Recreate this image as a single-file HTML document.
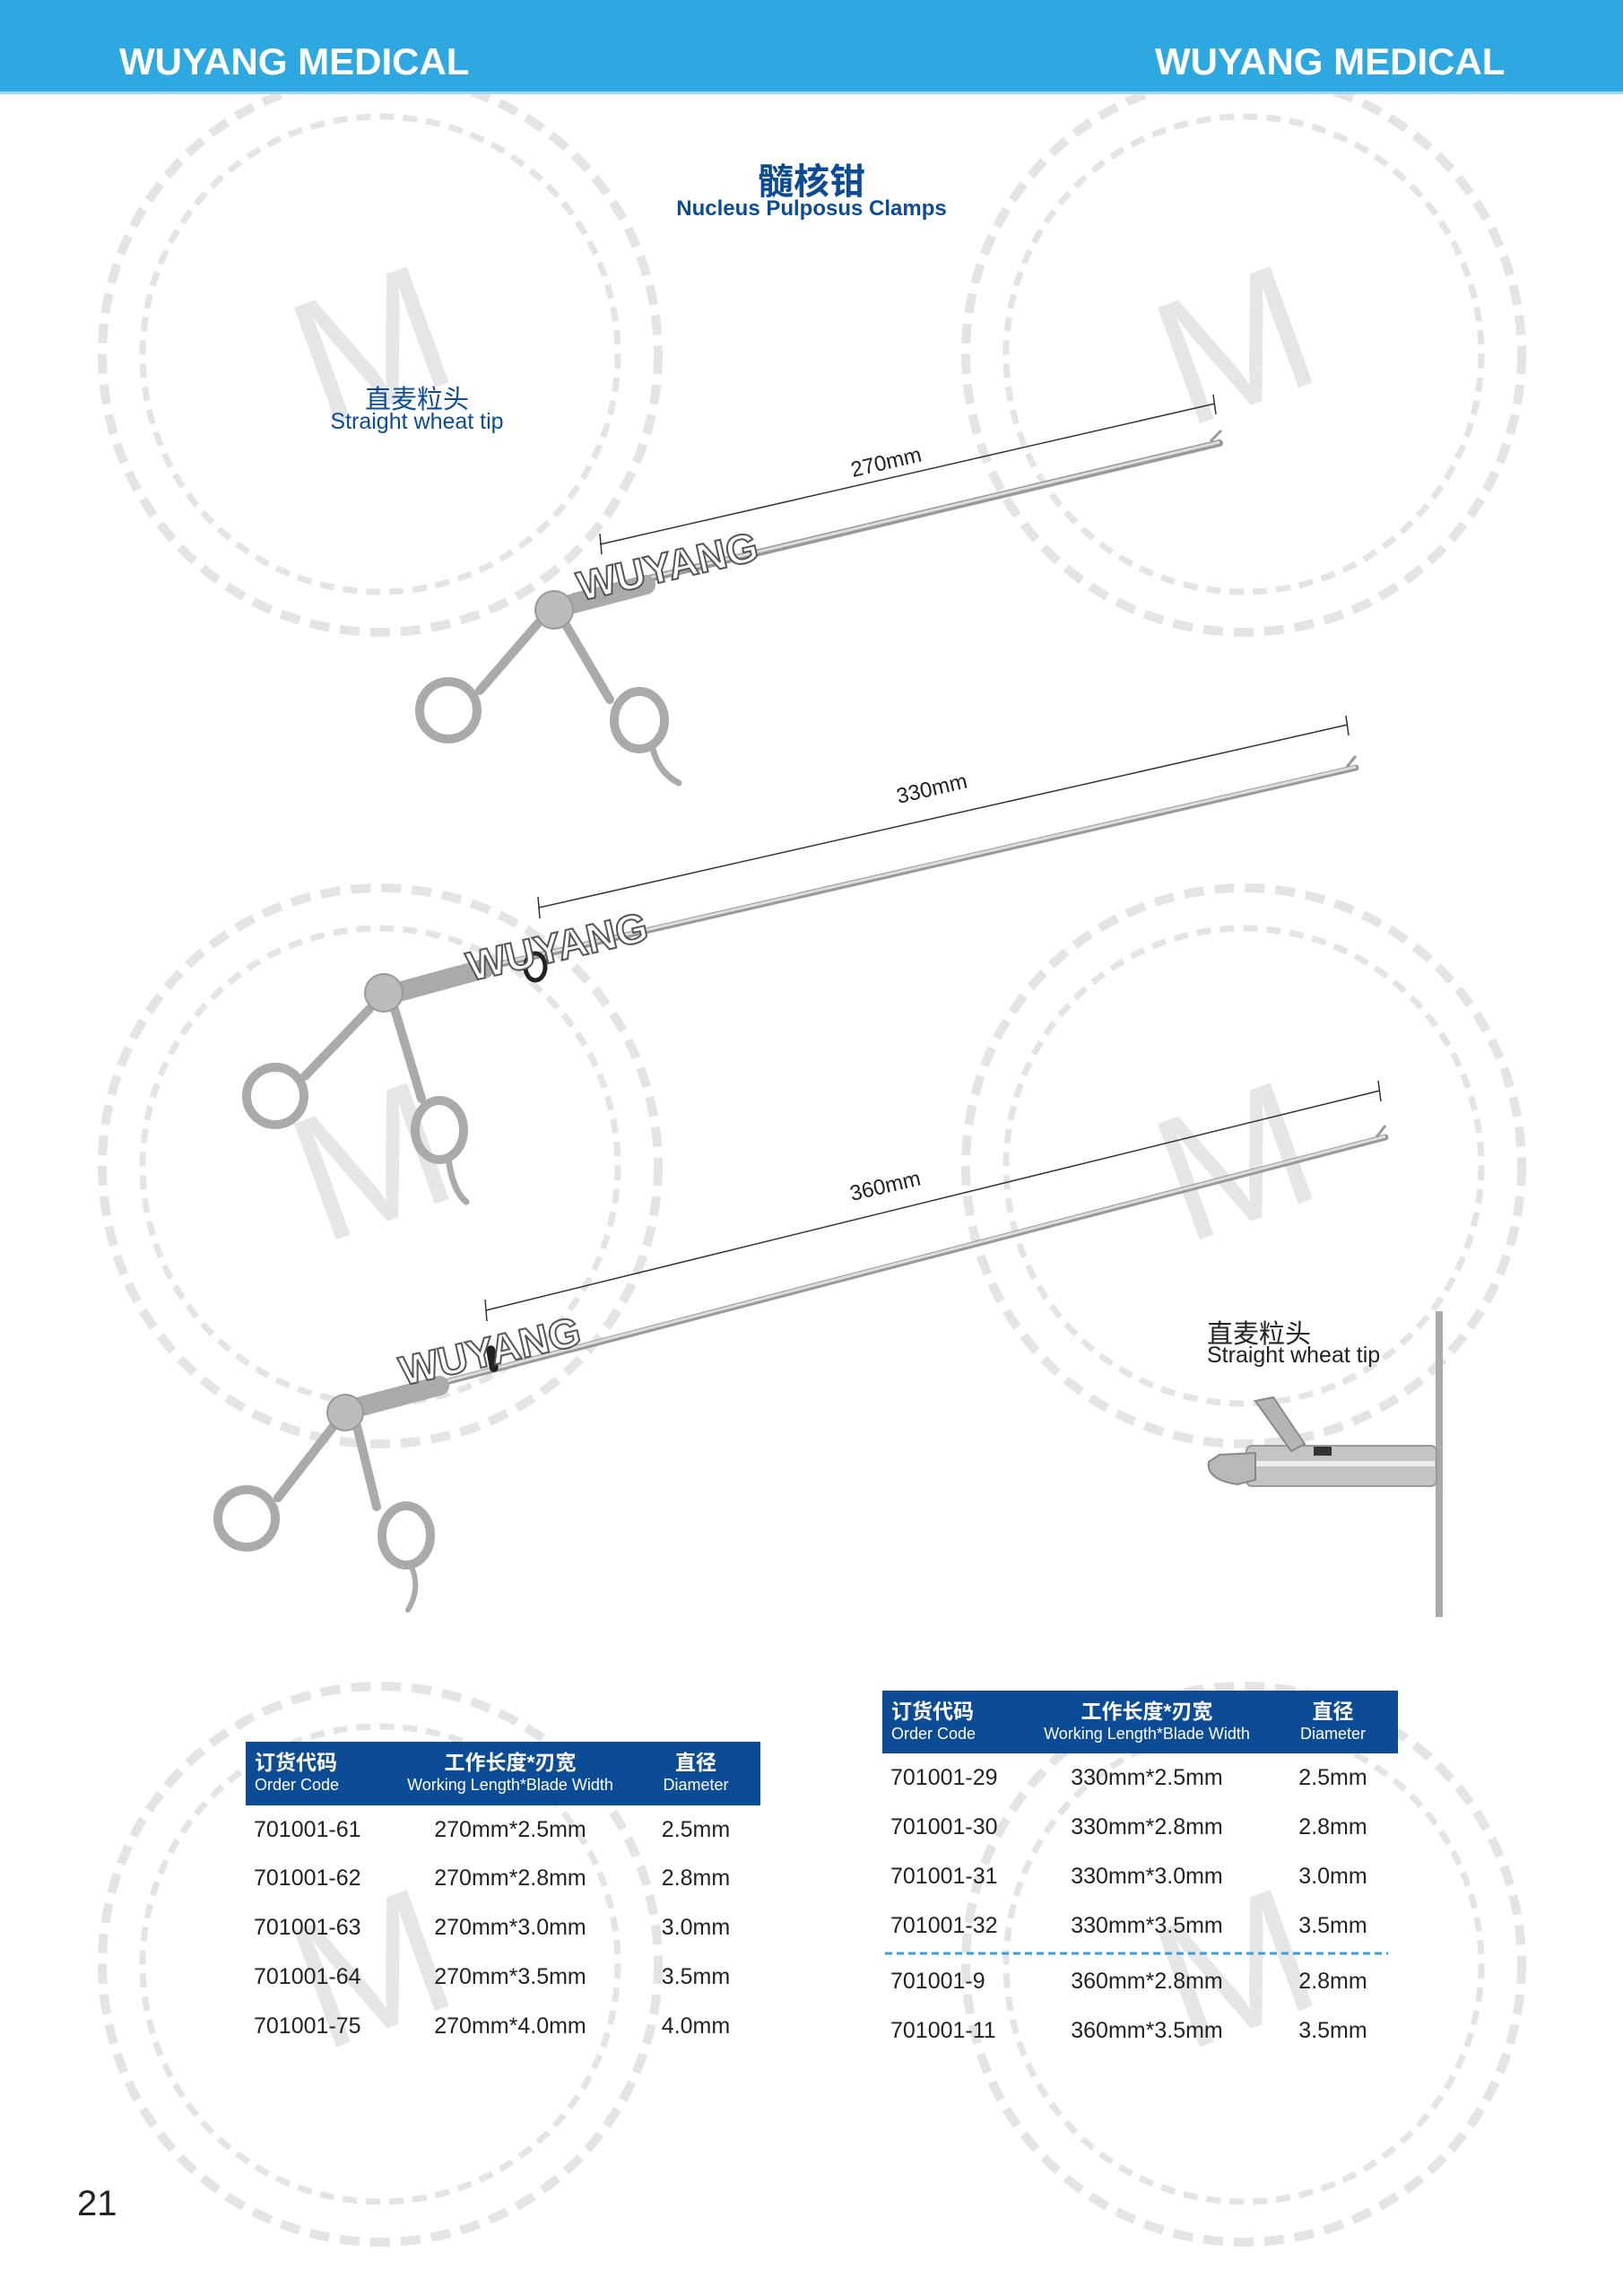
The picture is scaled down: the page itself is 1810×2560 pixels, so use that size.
<!DOCTYPE html>
<html><head><meta charset="utf-8"><style>
html,body{margin:0;padding:0;background:#fff;}
body{width:1810px;height:2560px;position:relative;overflow:hidden;font-family:"Liberation Sans","Noto Sans CJK SC",sans-serif;}
.hdr{position:absolute;left:0;top:0;width:1810px;height:102px;background:#2ea8e0;border-bottom:3px solid #9fd6ef;z-index:2;}
.hdr span{position:absolute;top:45px;color:#fff;font-weight:bold;font-size:42px;}
.t{position:absolute;white-space:nowrap;}
table{position:absolute;border-collapse:collapse;}
th{background:#0c4c96;color:#fff;font-weight:bold;padding:0;vertical-align:top;}
th .c{font-size:23px;display:block;margin-top:10px;line-height:26px;}
th .e{font-size:18px;font-weight:normal;display:block;line-height:24px;}
td{font-size:25px;color:#222;padding:0;height:55px;}
</style></head><body>
<div class="hdr"><span style="left:133px">WUYANG MEDICAL</span><span style="left:1288px">WUYANG MEDICAL</span></div>

<svg width="1810" height="2560" style="position:absolute;left:0;top:0">
<g fill="none" stroke="#e4e4e4">
 <g stroke-width="10" stroke-dasharray="22 12">
  <circle cx="424" cy="395" r="310"/><circle cx="1387" cy="395" r="310"/>
  <circle cx="424" cy="1300" r="310"/><circle cx="1387" cy="1300" r="310"/>
  <circle cx="424" cy="2190" r="310"/><circle cx="1387" cy="2190" r="310"/>
 </g>
 <g stroke-width="7" stroke-dasharray="16 10">
  <circle cx="424" cy="395" r="265"/><circle cx="1387" cy="395" r="265"/>
  <circle cx="424" cy="1300" r="265"/><circle cx="1387" cy="1300" r="265"/>
  <circle cx="424" cy="2190" r="265"/><circle cx="1387" cy="2190" r="265"/>
 </g>
</g>
<g fill="#e6e6e6" font-family="Liberation Sans" font-size="200">
 <text x="330" y="450" transform="rotate(-20 424 380)">M</text>
 <text x="1293" y="450" transform="rotate(-20 1387 380)">M</text>
 <text x="330" y="1360" transform="rotate(-20 424 1290)">M</text>
 <text x="1293" y="1360" transform="rotate(-20 1387 1290)">M</text>
 <text x="330" y="2260" transform="rotate(-20 424 2190)">M</text>
 <text x="1293" y="2260" transform="rotate(-20 1387 2190)">M</text>
</g>

<g stroke="#333" stroke-width="1.5">
 <line x1="669" y1="607" x2="1355" y2="450"/><line x1="669" y1="595" x2="671" y2="618"/><line x1="1353" y1="440" x2="1356" y2="462"/>
 <line x1="601" y1="1012" x2="1503" y2="808"/><line x1="600" y1="1000" x2="602" y2="1024"/><line x1="1501" y1="798" x2="1504" y2="820"/>
 <line x1="542" y1="1461" x2="1539" y2="1216"/><line x1="541" y1="1449" x2="543" y2="1473"/><line x1="1537" y1="1205" x2="1540" y2="1228"/>
</g>
<g font-size="24" fill="#222" font-family="Liberation Sans">
 <text x="990" y="523" text-anchor="middle" transform="rotate(-13 990 523)">270mm</text>
 <text x="1041" y="887" text-anchor="middle" transform="rotate(-13 1041 887)">330mm</text>
 <text x="989" y="1330" text-anchor="middle" transform="rotate(-13 989 1330)">360mm</text>
</g>

<g>
 <line x1="640" y1="665" x2="1360" y2="494" stroke="#999" stroke-width="8" stroke-linecap="round"/>
 <line x1="640" y1="664" x2="1360" y2="493" stroke="#ddd" stroke-width="3"/>
 <line x1="1350" y1="492" x2="1362" y2="480" stroke="#999" stroke-width="3"/>
 <line x1="620" y1="678" x2="720" y2="652" stroke="#aaa" stroke-width="22" stroke-linecap="round"/>
 <g fill="none" stroke="#aaa" stroke-width="10" stroke-linecap="round">
  <line x1="600" y1="695" x2="535" y2="770"/>
  <line x1="630" y1="695" x2="680" y2="780"/>
  <circle cx="500" cy="792" r="32"/>
  <ellipse cx="713" cy="803" rx="28" ry="32"/>
  <path d="M728 835 Q735 862 757 873" stroke-width="7"/>
 </g>
 <circle cx="618" cy="680" r="21" fill="#bbb" stroke="#999" stroke-width="2"/>
</g>
<g>
 <line x1="450" y1="1100" x2="1512" y2="856" stroke="#999" stroke-width="7" stroke-linecap="round"/>
 <line x1="450" y1="1099" x2="1512" y2="855" stroke="#ddd" stroke-width="3"/>
 <line x1="1502" y1="855" x2="1512" y2="843" stroke="#999" stroke-width="3"/>
 <line x1="430" y1="1110" x2="540" y2="1080" stroke="#aaa" stroke-width="22" stroke-linecap="round"/>
 <ellipse cx="597" cy="1078" rx="11" ry="15" fill="none" stroke="#222" stroke-width="5"/>
 <g fill="none" stroke="#aaa" stroke-width="10" stroke-linecap="round">
  <line x1="412" y1="1125" x2="340" y2="1200"/>
  <line x1="440" y1="1125" x2="470" y2="1225"/>
  <circle cx="307" cy="1222" r="32"/>
  <ellipse cx="490" cy="1260" rx="27" ry="33"/>
  <path d="M500 1292 Q505 1328 520 1340" stroke-width="7"/>
 </g>
 <circle cx="428" cy="1107" r="21" fill="#bbb" stroke="#999" stroke-width="2"/>
</g>
<g>
 <line x1="405" y1="1565" x2="1545" y2="1268" stroke="#999" stroke-width="7" stroke-linecap="round"/>
 <line x1="405" y1="1564" x2="1545" y2="1267" stroke="#ddd" stroke-width="3"/>
 <line x1="1535" y1="1268" x2="1545" y2="1255" stroke="#999" stroke-width="3"/>
 <line x1="388" y1="1572" x2="490" y2="1545" stroke="#aaa" stroke-width="22" stroke-linecap="round"/>
 <rect x="544" y="1500" width="10" height="30" rx="5" fill="#222" transform="rotate(-10 549 1515)"/>
 <g fill="none" stroke="#aaa" stroke-width="10" stroke-linecap="round">
  <line x1="372" y1="1590" x2="310" y2="1670"/>
  <line x1="398" y1="1590" x2="420" y2="1680"/>
  <circle cx="275" cy="1693" r="32"/>
  <ellipse cx="453" cy="1712" rx="27" ry="33"/>
  <path d="M458 1745 Q470 1770 455 1795" stroke-width="6"/>
 </g>
 <circle cx="385" cy="1575" r="20" fill="#bbb" stroke="#999" stroke-width="2"/>
</g>
<g font-family="Liberation Sans" font-weight="bold" font-size="46" fill="#fff" stroke="#555" stroke-width="2">
 <text x="648" y="670" transform="rotate(-13 648 670)">WUYANG</text>
 <text x="525" y="1094" transform="rotate(-13 525 1094)">WUYANG</text>
 <text x="450" y="1545" transform="rotate(-13 450 1545)">WUYANG</text>
</g>

<rect x="1601" y="1462" width="8" height="341" fill="#aaa"/>
<rect x="1390" y="1612" width="212" height="45" rx="6" fill="#c4c4c4" stroke="#999" stroke-width="2"/>
<line x1="1395" y1="1632" x2="1600" y2="1632" stroke="#eee" stroke-width="6"/>
<path d="M1348 1630 Q1345 1650 1380 1655 L1400 1650 L1400 1620 L1360 1622 Z" fill="#b8b8b8" stroke="#888" stroke-width="2"/>
<path d="M1400 1562 L1420 1558 L1455 1610 L1440 1618 Z" fill="#b5b5b5" stroke="#888" stroke-width="2"/>
<rect x="1465" y="1613" width="20" height="10" fill="#333"/>

<line x1="987" y1="2178" x2="1548" y2="2178" stroke="#3a9fd6" stroke-width="3" stroke-dasharray="8 5"/>
</svg>

<div class="t" style="left:0;width:1810px;text-align:center;top:170px;font-size:40px;font-weight:bold;color:#0c4c96;">髓核钳</div>
<div class="t" style="left:0;width:1810px;text-align:center;top:219px;font-size:24px;font-weight:bold;color:#0c4c96;">Nucleus Pulposus Clamps</div>

<div class="t" style="left:365px;width:200px;text-align:center;top:422px;font-size:29px;color:#0c4c96;">直麦粒头</div>
<div class="t" style="left:315px;width:300px;text-align:center;top:456px;font-size:25px;color:#0c4c96;">Straight wheat tip</div>

<div class="t" style="left:1346px;top:1464px;font-size:29px;color:#222;">直麦粒头</div>
<div class="t" style="left:1346px;top:1497px;font-size:25px;color:#222;">Straight wheat tip</div>

<table style="left:274px;top:1942px;width:574px;">
<tr style="height:71px"><th style="width:150px;text-align:left;padding-left:10px"><span class="c">订货代码</span><span class="e">Order Code</span></th><th style="width:270px;text-align:center"><span class="c">工作长度*刃宽</span><span class="e">Working Length*Blade Width</span></th><th style="text-align:center"><span class="c">直径</span><span class="e">Diameter</span></th></tr>
<tr style="height:54px"><td style="padding-left:9px;height:54px">701001-61</td><td style="text-align:center;height:54px">270mm*2.5mm</td><td style="text-align:center;height:54px">2.5mm</td></tr>
<tr><td style="padding-left:9px">701001-62</td><td style="text-align:center">270mm*2.8mm</td><td style="text-align:center">2.8mm</td></tr>
<tr><td style="padding-left:9px">701001-63</td><td style="text-align:center">270mm*3.0mm</td><td style="text-align:center">3.0mm</td></tr>
<tr><td style="padding-left:9px">701001-64</td><td style="text-align:center">270mm*3.5mm</td><td style="text-align:center">3.5mm</td></tr>
<tr><td style="padding-left:9px">701001-75</td><td style="text-align:center">270mm*4.0mm</td><td style="text-align:center">4.0mm</td></tr>
</table>

<table style="left:984px;top:1885px;width:575px;">
<tr style="height:70px"><th style="width:150px;text-align:left;padding-left:10px"><span class="c">订货代码</span><span class="e">Order Code</span></th><th style="width:270px;text-align:center"><span class="c">工作长度*刃宽</span><span class="e">Working Length*Blade Width</span></th><th style="text-align:center"><span class="c">直径</span><span class="e">Diameter</span></th></tr>
<tr><td style="padding-left:9px">701001-29</td><td style="text-align:center">330mm*2.5mm</td><td style="text-align:center">2.5mm</td></tr>
<tr><td style="padding-left:9px">701001-30</td><td style="text-align:center">330mm*2.8mm</td><td style="text-align:center">2.8mm</td></tr>
<tr><td style="padding-left:9px">701001-31</td><td style="text-align:center">330mm*3.0mm</td><td style="text-align:center">3.0mm</td></tr>
<tr><td style="padding-left:9px">701001-32</td><td style="text-align:center">330mm*3.5mm</td><td style="text-align:center">3.5mm</td></tr>
<tr><td style="padding:7px 0 0 9px;height:55px">701001-9</td><td style="text-align:center;padding:7px 0 0 0;height:55px">360mm*2.8mm</td><td style="text-align:center;padding:7px 0 0 0;height:55px">2.8mm</td></tr>
<tr><td style="padding-left:9px">701001-11</td><td style="text-align:center">360mm*3.5mm</td><td style="text-align:center">3.5mm</td></tr>
</table>

<div class="t" style="left:86px;top:2435px;font-size:40px;color:#222;">21</div>
</body></html>
